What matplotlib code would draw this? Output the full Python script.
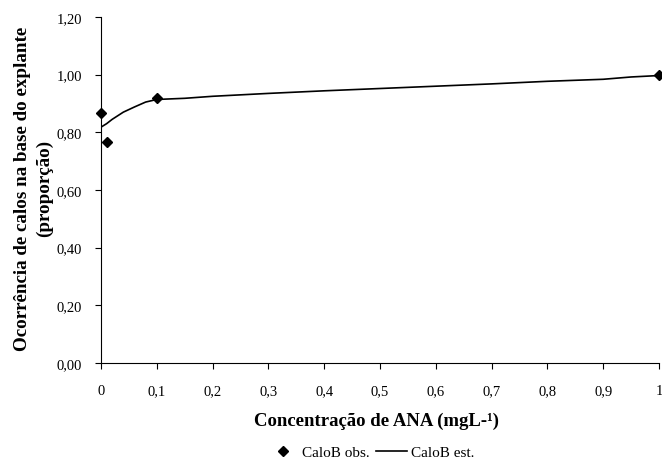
import numpy as np
import matplotlib
matplotlib.use("Agg")
import matplotlib.pyplot as plt

plt.rcParams['font.family'] = ['Liberation Serif', 'DejaVu Serif']

# observados
x_obs = [0, 0.01, 0.1, 1.0]
y_obs = [0.867, 0.767, 0.919, 0.999]

# estimados (curva ajustada)
x_est = [0, 0.01, 0.02, 0.04, 0.06, 0.08, 0.1, 0.15, 0.2, 0.3, 0.4, 0.5, 0.6, 0.7, 0.8, 0.9, 0.95, 1.0]
y_est = [0.818, 0.830, 0.845, 0.870, 0.888, 0.905, 0.914, 0.918, 0.925, 0.935, 0.944, 0.952, 0.960, 0.968, 0.977, 0.984, 0.992, 0.997]

xticks = [0, 0.1, 0.2, 0.3, 0.4, 0.5, 0.6, 0.7, 0.8, 0.9, 1.0]
xticklabels = ["0", "0,1", "0,2", "0,3", "0,4", "0,5", "0,6", "0,7", "0,8", "0,9", "1"]
yticks = [0, 0.2, 0.4, 0.6, 0.8, 1.0, 1.2]
yticklabels = ["0,00", "0,20", "0,40", "0,60", "0,80", "1,00", "1,20"]

W, H = 662, 460
fig = plt.figure(figsize=(W/100, H/100), dpi=100)
ax = fig.add_axes([101/W, 96/H, 558/W, 346/H])

ax.plot(x_est, y_est, color='black', lw=1.2, label='CaloB est.')
ax.plot(x_obs, y_obs, linestyle='none', marker='D', color='black', ms=5.5, label='CaloB obs.', clip_on=False, zorder=5)

ax.set_xlim(0, 1)
ax.set_ylim(0, 1.2)
ax.set_xticks(xticks)
ax.set_xticklabels(xticklabels, fontsize=10.5)
ax.set_yticks(yticks)
ax.set_yticklabels(yticklabels, fontsize=10.5)
ax.tick_params(axis='x', direction='out', length=4, width=0.8, pad=11)
ax.tick_params(axis='y', direction='out', length=4, width=0.8, pad=9.5)
for s in ['top', 'right']:
    ax.spines[s].set_visible(False)

fig.text(376/W, 1 - 421/H, "Concentração de ANA (mgL-¹)", fontsize=13.5, fontweight='bold',
         ha='center', va='center')
fig.text(33.5/W, 1 - 188.5/H, "Ocorrência de calos na base do explante\n(proporção)", fontsize=13.7,
         fontweight='bold', rotation=90, ha='center', va='center', linespacing=1.3, multialignment='center')

h, l = ax.get_legend_handles_labels()
fig.legend([h[1], h[0]], [l[1], l[0]], loc='center', bbox_to_anchor=(371/W, 1 - 453/H),
           ncol=2, frameon=False, fontsize=11, handlelength=2.0, columnspacing=0.4, handletextpad=0.3,
           markerscale=0.85)

fig.savefig("out.png", dpi=100)
